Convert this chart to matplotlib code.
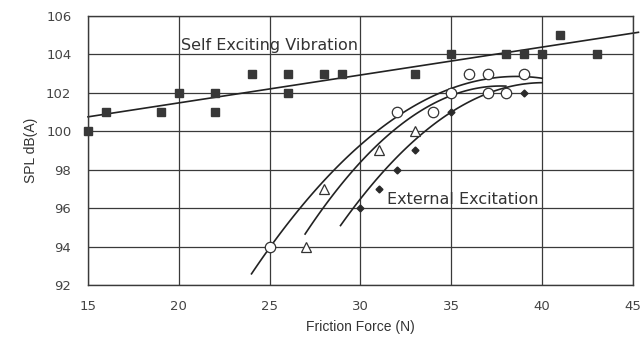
import matplotlib
matplotlib.use("Agg")
import matplotlib.pyplot as plt
import numpy as np

plt.rcParams['font.family'] = ['Liberation Sans', 'DejaVu Sans']

# Datos
# Self exciting vibration (cuadrados)
self_x = [15, 16, 19, 20, 22, 22, 24, 26, 26, 28, 29, 33, 35, 38, 39, 40, 41, 43]
self_y = [100, 101, 101, 102, 102, 101, 103, 103, 102, 103, 103, 103, 104, 104, 104, 104, 105, 104]
self_fit_x = [15, 45.3]
self_fit_y = [100.75, 105.15]

# External excitation: circulos, triangulos, rombos
circ_x = [25, 32, 34, 35, 36, 37, 37, 38, 39]
circ_y = [94, 101, 101, 102, 103, 103, 102, 102, 103]
tri_x = [27, 28, 31, 33]
tri_y = [94, 97, 99, 100]
diam_x = [30, 31, 32, 33, 35, 39]
diam_y = [96, 97, 98, 99, 101, 102]

# puntos de las curvas de ajuste (leidos)
circ_fit_x = [24, 25, 28, 30, 35, 37.3, 40]
circ_fit_y = [92.4, 94.0, 97.75, 99.2, 102.05, 102.75, 102.85]
tri_fit_x = [26.95, 30, 35, 38]
tri_fit_y = [94.6, 98.5, 101.75, 102.4]
diam_fit_x = [28.9, 30, 35, 40]
diam_fit_y = [95.3, 96.2, 101.1, 102.5]

xticks = [15, 20, 25, 30, 35, 40, 45]
yticks = [92, 94, 96, 98, 100, 102, 104, 106]

def curva(xs, ys):
    p = np.polyfit(xs, ys, 2)
    xx = np.linspace(min(xs), max(xs), 100)
    return xx, np.polyval(p, xx)

fig = plt.figure(figsize=(6.41, 3.40), dpi=100)
ax = fig.add_axes([0.1373, 0.162, 0.8502, 0.791])

gris = '#3a3a3a'
ax.grid(True, color=gris, linewidth=0.9)
ax.set_axisbelow(True)

ax.plot(self_fit_x, self_fit_y, color='#222222', linewidth=1.2, clip_on=False)
for xs, ys in [(circ_fit_x, circ_fit_y), (tri_fit_x, tri_fit_y), (diam_fit_x, diam_fit_y)]:
    xx, yy = curva(xs, ys)
    ax.plot(xx, yy, color='#222222', linewidth=1.2)

ax.plot(self_x, self_y, 's', color='#383838', markersize=5.5, clip_on=False)
ax.plot(circ_x, circ_y, 'o', markerfacecolor='white', markeredgecolor='#333333',
        markersize=7.5, markeredgewidth=0.9)
ax.plot(tri_x, tri_y, '^', markerfacecolor='white', markeredgecolor='#333333',
        markersize=6.5, markeredgewidth=0.9)
ax.plot(diam_x, diam_y, 'D', color='#2a2a2a', markersize=3.5)

ax.text(20.1, 104.45, 'Self Exciting Vibration', fontsize=11.5, color='#333333',
        va='center', ha='left', family='DejaVu Sans')
ax.text(31.45, 96.45, 'External Excitation', fontsize=11.5, color='#333333',
        va='center', ha='left', family='DejaVu Sans')

ax.set_xlim(15, 45)
ax.set_ylim(92, 106)
ax.set_xticks(xticks)
ax.set_yticks(yticks)
ax.tick_params(length=0, labelsize=9.5, colors='#444444')
ax.tick_params(axis='y', pad=12)
ax.tick_params(axis='x', pad=11)
for lab in ax.get_xticklabels() + ax.get_yticklabels():
    lab.set_family('DejaVu Sans')
for s in ax.spines.values():
    s.set_color(gris)
    s.set_linewidth(1.0)

ax.set_xlabel('Friction Force (N)', fontsize=10, color='#333333', labelpad=5)
ax.set_ylabel('SPL dB(A)', fontsize=10, color='#333333', labelpad=6)

fig.savefig('out.png', dpi=100)
